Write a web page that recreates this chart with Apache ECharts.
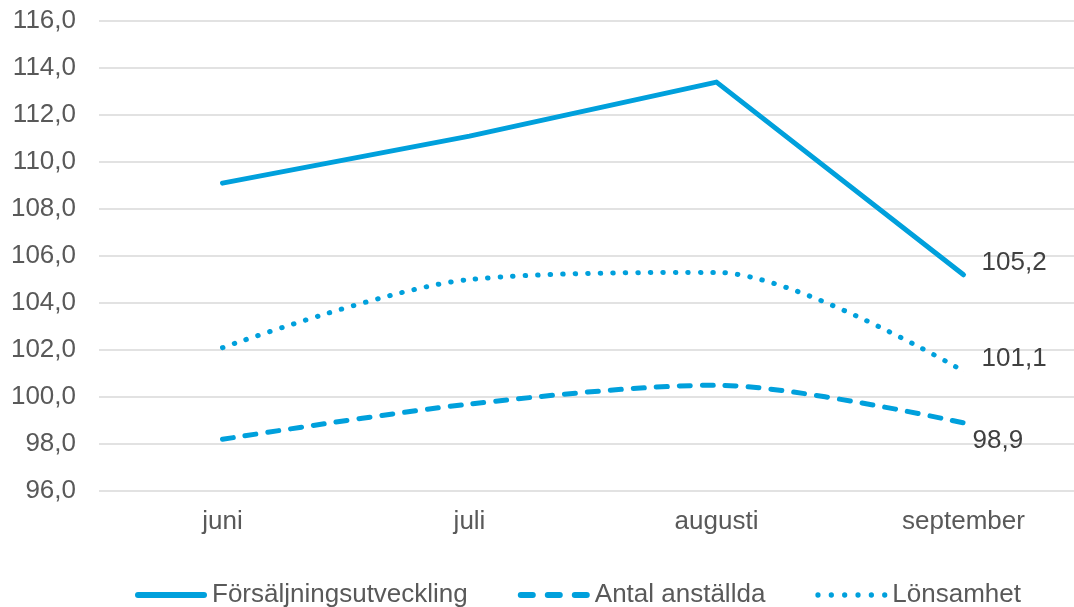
<!DOCTYPE html>
<html>
    <head>
        <meta charset="utf-8">
        <script src="https://cdn.jsdelivr.net/npm/echarts@6/dist/echarts.min.js"></script>
    </head>
    <body style="margin:0">
        <div id="chart" style="width: 1074px; height: 607px"></div>
        <script type="text/javascript">
            const months = ["juni", "juli", "augusti", "september"];
            const forsaljning = [109.1, 111.1, 113.4, 105.2];
            const antalAnstallda = [98.2, 99.7, 100.5, 98.9];
            const lonsamhet = [102.1, 105.0, 105.3, 101.1];

            const blue = "#00a0dc";
            const font = "Liberation Sans, Arial, sans-serif";

            const chart = echarts.init(document.getElementById("chart"));

            function fmt(v) {
                return v.toFixed(1).replace(".", ",");
            }

            // label only on the last point: give it its own tiny symbol so the label can hang on it
            function withLastLabel(values, offset) {
                return values.map(function (v, i) {
                    if (i < values.length - 1) return v;
                    return {
                        value: v,
                        symbol: "circle",
                        symbolSize: 0.1,
                        label: {
                            show: true,
                            position: "right",
                            distance: 0,
                            offset: offset,
                            fontSize: 26,
                            fontFamily: font,
                            color: "#404040",
                            formatter: function (p) { return fmt(p.value); }
                        }
                    };
                });
            }

            // legend icons drawn as paths, 72 x 6
            const iconSolid = "path://M3,0L69,0A3,3 0 0 1 69,6L3,6A3,3 0 0 1 3,0Z";
            let iconDash = "path://";
            [0, 27, 54].forEach(function (x) {
                iconDash += "M" + (x + 3) + ",0L" + (x + 15) + ",0A3,3 0 0 1 " + (x + 15) + ",6L" + (x + 3) + ",6A3,3 0 0 1 " + (x + 3) + ",0Z";
            });
            let iconDot = "path://";
            for (let i = 0; i < 6; i++) {
                const cx = 3 + i * 13.2;
                iconDot += "M" + (cx - 2.6) + ",3A2.6,2.6 0 1 1 " + (cx + 2.6) + ",3A2.6,2.6 0 1 1 " + (cx - 2.6) + ",3Z";
            }

            const option = {
                animation: false,
                grid: { left: 99, right: -13, top: 21, bottom: 116, outerBoundsMode: "none" },
                xAxis: {
                    type: "category",
                    data: months,
                    axisLine: { show: false },
                    axisTick: { show: false },
                    axisLabel: { fontSize: 26, fontFamily: font, color: "#595959", margin: 18 }
                },
                yAxis: {
                    type: "value",
                    min: 96,
                    max: 116,
                    interval: 2,
                    axisLine: { show: false },
                    axisTick: { show: false },
                    axisLabel: {
                        fontSize: 26, fontFamily: font, color: "#595959", margin: 23,
                        formatter: fmt
                    },
                    splitLine: { lineStyle: { color: "#d9d9d9", width: 1.5 } }
                },
                legend: {
                    top: 577,
                    left: 130,
                    itemWidth: 72,
                    itemHeight: 6,
                    itemGap: 50,
                    textStyle: { fontSize: 26, fontFamily: font, color: "#595959" },
                    data: [
                        { name: "Försäljningsutveckling", icon: iconSolid },
                        { name: "Antal anställda", icon: iconDash },
                        { name: "Lönsamhet", icon: iconDot }
                    ]
                },
                series: [
                    {
                        name: "Försäljningsutveckling",
                        type: "line",
                        data: withLastLabel(forsaljning, [18, -12]),
                        symbol: "none",
                        color: blue,
                        lineStyle: { width: 5, color: blue, cap: "round", join: "round" }
                    },
                    {
                        name: "Antal anställda",
                        type: "line",
                        data: withLastLabel(antalAnstallda, [9, 18]),
                        symbol: "none",
                        smooth: 0.3,
                        color: blue,
                        lineStyle: { width: 5, color: blue, type: [11, 12], cap: "round" }
                    },
                    {
                        name: "Lönsamhet",
                        type: "line",
                        data: withLastLabel(lonsamhet, [18, -12]),
                        symbol: "none",
                        smooth: 0.3,
                        color: blue,
                        lineStyle: { width: 5, color: blue, type: [0.5, 12], cap: "round" }
                    }
                ]
            };

            chart.setOption(option);
        </script>
    </body>
</html>
